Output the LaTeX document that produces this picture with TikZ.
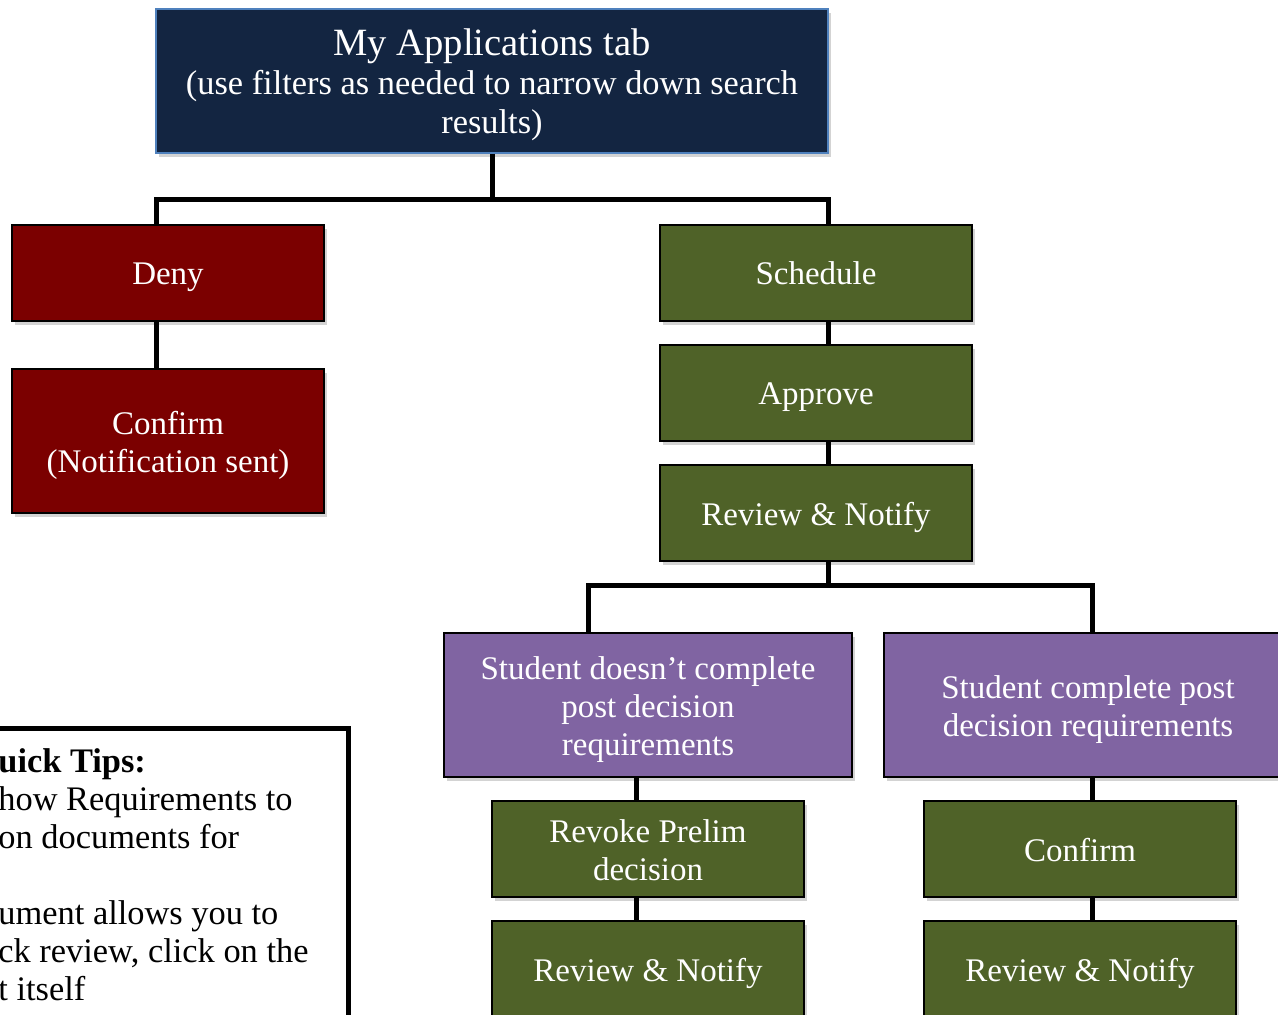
\documentclass[tikz,border=0pt]{standalone}
\usepackage{fontspec}
\setmainfont{Liberation Serif}
\usetikzlibrary{positioning,shadows}
\definecolor{navybox}{RGB}{19,37,65}
\definecolor{navyrim}{RGB}{79,129,189}
\definecolor{denyred}{RGB}{123,0,0}
\definecolor{olivebox}{RGB}{79,98,40}
\definecolor{lilacbox}{RGB}{128,100,162}
\newcommand\boxstrut{\rule[-4pt]{0pt}{20pt}}
\newcommand\firstline{\rule{0pt}{16.5pt}}

\begin{document}
\begin{tikzpicture}[x=0.5pt,y=-0.5pt,
    box/.style={draw=black,line width=1pt,text=white,align=center,
        minimum width=156pt,minimum height=48pt,inner sep=2pt,
        font=\fontsize{16.5}{19}\selectfont,
        execute at begin node=\boxstrut,execute at end node=\boxstrut,
        drop shadow={opacity=0.35,shadow xshift=1.5pt,shadow yshift=-2pt}},
    redbox/.style={box,fill=denyred},
    greenbox/.style={box,fill=olivebox},
    purplebox/.style={box,fill=lilacbox,minimum width=204pt,minimum height=72pt},
    conn/.style={line width=2.5pt}]
    \useasboundingbox (0,0) rectangle (1278,1015);
    \clip (0,0) rectangle (1278,1015);

    % top of the tree
    \node[box,fill=navybox,draw=navyrim,minimum width=336pt,minimum height=72pt,
        font=\fontsize{17.2}{19.5}\selectfont] (top) at (492,81)
        {\rule{0pt}{17.5pt}{\fontsize{19.3}{20}\selectfont My Applications tab}\\(use filters as needed to narrow down search\\results)};

    % deny branch
    \node[redbox] (deny) at (168,273) {Deny};
    \node[redbox,minimum height=72pt] (dconf) at (168,441) {\firstline Confirm\\(Notification sent)};

    % schedule branch
    \node[greenbox] (sched) at (816,273) {Schedule};
    \node[greenbox] (appr) at (816,393) {Approve};
    \node[greenbox] (revw) at (816,513) {Review \& Notify};
    \node[purplebox] (nodone) at (648,705) {\firstline Student doesn’t complete\\post decision\\requirements};
    \node[purplebox] (done) at (1088,705) {\firstline Student complete post\\decision requirements};
    \node[greenbox] (revoke) at (648,849) {\firstline Revoke Prelim\\decision};
    \node[greenbox] (revl) at (648,969) {Review \& Notify};
    \node[greenbox] (cconf) at (1080,849) {Confirm};
    \node[greenbox] (revr) at (1080,969) {Review \& Notify};

    \coordinate (b1) at (492,200);
    \coordinate (b2) at (828,585);
    \draw[conn] (top.south) -- (b1);
    \draw[conn] ([xshift=-6pt]deny.north) |- (b1) -| ([xshift=6pt]sched.north);
    \draw[conn] ([xshift=-6pt]deny.south) -- ([xshift=-6pt]dconf.north);
    \draw[conn] ([xshift=6pt]sched.south) -- ([xshift=6pt]appr.north);
    \draw[conn] ([xshift=6pt]appr.south) -- ([xshift=6pt]revw.north);
    \draw[conn] ([xshift=6pt]revw.south) -- (b2);
    \draw[conn] ([xshift=-30pt]nodone.north) |- (b2) -| ([xshift=2pt]done.north);
    \draw[conn] ([xshift=-6pt]nodone.south) -- ([xshift=-6pt]revoke.north);
    \draw[conn] ([xshift=-6pt]revoke.south) -- ([xshift=-6pt]revl.north);
    \draw[conn] ([xshift=2pt]done.south) -- ([xshift=6pt]cconf.north);
    \draw[conn] ([xshift=6pt]cconf.south) -- ([xshift=6pt]revr.north);

    % tips box, cut by the page edge
    \draw[line width=2.5pt,fill=white] (-20,728) rectangle (348,1060);
    \node[anchor=north west,align=left,inner sep=0pt,font=\fontsize{17.2}{19}\selectfont] (tips) at (-2,748)
        {\textbf{uick Tips:}\\how Requirements to\\on documents for\\[19pt]ument allows you to\\ck review, click on the\\t itself};
\end{tikzpicture}
\end{document}
